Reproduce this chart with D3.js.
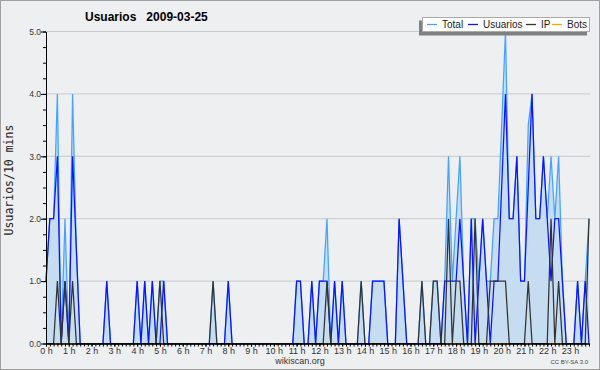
<!DOCTYPE html>
<html>
<head>
<meta charset="utf-8">
<script src="https://cdn.jsdelivr.net/npm/d3@7"></script>
<style>
  body { margin: 0; background: #fff; }
  svg text { font-family: "Liberation Sans", Arial, sans-serif; }
</style>
</head>
<body>
<svg id="chart" width="600" height="370"></svg>
<script>
// one value per 10 minutes, 144 per day
const total = [
  1, 2, 2, 4, 0, 2, 0, 4, 1.5, 0,   0, 0, 0, 0, 0, 0, 1, 0, 0, 0,
  0, 0, 0, 0, 1, 0, 1, 0, 1, 0,     1, 1, 0, 0, 0, 0, 0, 0, 0, 0,
  0, 0, 0, 0, 1, 0, 0, 0, 1, 0,     0, 0, 0, 0, 0, 0, 0, 0, 0, 0,
  0, 0, 0, 0, 0, 0, 1, 1, 0, 0,     1, 0, 1, 1, 2, 0, 1, 0, 1, 0,
  0, 0, 0, 1, 0, 0, 1, 1, 1, 1,     0, 0, 0, 2, 1, 0, 0, 0, 0, 1,
  0, 0, 1, 1, 0, 1, 3, 1, 2, 3,     1, 0, 2, 2, 1, 2, 1, 1, 2, 2,
  3.5, 5, 2, 2, 3, 1, 1, 3.5, 4, 2, 2, 3, 2, 3, 2, 3, 1, 0, 0, 0,
  1, 0, 1, 2
];
const usuarios = [
  1, 2, 2, 3, 0, 1, 0, 3, 1.5, 0,   0, 0, 0, 0, 0, 0, 1, 0, 0, 0,
  0, 0, 0, 0, 1, 0, 1, 0, 1, 0,     0, 1, 0, 0, 0, 0, 0, 0, 0, 0,
  0, 0, 0, 0, 0, 0, 0, 0, 1, 0,     0, 0, 0, 0, 0, 0, 0, 0, 0, 0,
  0, 0, 0, 0, 0, 0, 1, 1, 0, 0,     1, 0, 1, 1, 1, 0, 1, 0, 1, 0,
  0, 0, 0, 0, 0, 0, 1, 1, 1, 1,     0, 0, 0, 2, 1, 0, 0, 0, 0, 0,
  0, 0, 0, 0, 0, 1, 1, 1, 1, 2,     1, 0, 2, 0, 1, 2, 1, 0, 1, 1,
  2.5, 4, 2, 2, 3, 1, 1, 2.5, 4, 2, 2, 3, 2, 1, 2, 2, 1, 0, 0, 0,
  1, 0, 1, 0
];
const ip = [
  0, 0, 0, 1, 0, 1, 0, 1, 0, 0,     0, 0, 0, 0, 0, 0, 0, 0, 0, 0,
  0, 0, 0, 0, 0, 0, 0, 0, 0, 0,     1, 0, 0, 0, 0, 0, 0, 0, 0, 0,
  0, 0, 0, 0, 1, 0, 0, 0, 0, 0,     0, 0, 0, 0, 0, 0, 0, 0, 0, 0,
  0, 0, 0, 0, 0, 0, 0, 0, 0, 0,     0, 0, 0, 0, 1, 0, 0, 0, 0, 0,
  0, 0, 0, 1, 0, 0, 0, 0, 0, 0,     0, 0, 0, 0, 0, 0, 0, 0, 0, 1,
  0, 0, 1, 1, 0, 0, 2, 0, 1, 1,     0, 0, 0, 2, 0, 0, 0, 1, 1, 1,
  1, 1, 0, 0, 0, 0, 0, 1, 0, 0,     0, 0, 0, 2, 0, 1, 0, 0, 0, 0,
  0, 0, 0, 2
];
const bots = [
  0, 0, 0, 0, 0, 0, 0, 0, 0, 0,  0, 0, 0, 0, 0, 0, 0, 0, 0, 0,
  0, 0, 0, 0, 0, 0, 0, 0, 0, 0,  0, 0, 0, 0, 0, 0, 0, 0, 0, 0,
  0, 0, 0, 0, 0, 0, 0, 0, 0, 0,  0, 0, 0, 0, 0, 0, 0, 0, 0, 0,
  0, 0, 0, 0, 0, 0, 0, 0, 0, 0,  0, 0, 0, 0, 0, 0, 0, 0, 0, 0,
  0, 0, 0, 0, 0, 0, 0, 0, 0, 0,  0, 0, 0, 0, 0, 0, 0, 0, 0, 0,
  0, 0, 0, 0, 0, 0, 0, 0, 0, 0,  0, 0, 0, 0, 0, 0, 0, 0, 0, 0,
  0, 0, 0, 0, 0, 0, 0, 0, 0, 0,  0, 0, 0, 0, 0, 0, 0, 0, 0, 0,
  0, 0, 0, 0
];
const hourLabels = ['0 h', '1 h', '2 h', '3 h', '4 h', '5 h', '6 h', '7 h', '8 h', '9 h', '10 h', '11 h',
  '12 h', '13 h', '14 h', '15 h', '16 h', '17 h', '18 h', '19 h', '20 h', '21 h', '22 h', '23 h'];
const yTicks = [0, 1, 2, 3, 4, 5];
const seriesNames = ['Total', 'Usuarios', 'IP', 'Bots'];
const seriesColors = ['#45a3ff', '#0a14ff', '#333333', '#ffa500'];

const svg = d3.select('#chart');

svg.append('rect')
  .attr('x', 0.5).attr('y', 0.5)
  .attr('width', 599).attr('height', 369)
  .attr('fill', '#eeeff1')
  .attr('stroke', '#a0a0a0');

const x = d3.scaleLinear().domain([0, total.length - 1]).range([46, 589]);
const y = d3.scaleLinear().domain([0, 5]).range([343.5, 31.5]);

// grid
svg.append('g')
  .selectAll('line')
  .data(yTicks.slice(1))
  .enter()
  .append('line')
  .attr('x1', 46).attr('x2', 590)
  .attr('y1', d => y(d)).attr('y2', d => y(d))
  .attr('stroke', '#c9c9c9');

const idx = d3.range(total.length);

const area = d3.area()
  .x(i => x(i))
  .y0(y(0))
  .y1(i => y(total[i]));

svg.append('path')
  .datum(idx)
  .attr('d', area)
  .attr('fill', '#c6dcf0');

const line = values => d3.line().x(i => x(i)).y(i => y(values[i]));

[bots, total, usuarios, ip].forEach((values, k) => {
  const color = [seriesColors[3], seriesColors[0], seriesColors[1], seriesColors[2]][k];
  svg.append('path')
    .datum(idx)
    .attr('d', line(values))
    .attr('fill', 'none')
    .attr('stroke', color)
    .attr('stroke-width', 1.25);
});

// y axis
svg.append('g')
  .attr('transform', 'translate(46,0)')
  .call(d3.axisLeft(y).tickValues(d3.range(0, 5.01, 0.25)).tickSize(3).tickSizeOuter(0).tickFormat(''));
const yMajor = svg.append('g')
  .attr('transform', 'translate(46,0)')
  .call(d3.axisLeft(y).tickValues(yTicks).tickSize(5).tickSizeOuter(0).tickFormat(d3.format('.1f')));
yMajor.selectAll('text')
  .attr('x', -5)
  .attr('font-size', 8.5)
  .attr('font-family', '"Liberation Sans", Arial, sans-serif')
  .attr('fill', '#333');

// x axis
svg.append('g')
  .attr('transform', 'translate(0,343.5)')
  .call(d3.axisBottom(x).tickValues(idx).tickSize(3).tickSizeOuter(0).tickFormat(''));
const xMajor = svg.append('g')
  .attr('transform', 'translate(0,343.5)')
  .call(d3.axisBottom(x).tickValues(d3.range(0, total.length, 6)).tickSize(3)
    .tickSizeOuter(0).tickFormat((d, i) => hourLabels[i]));
xMajor.selectAll('text')
  .attr('y', 4)
  .attr('font-size', 9)
  .attr('font-family', '"Liberation Sans", Arial, sans-serif')
  .attr('fill', '#333');

svg.selectAll('.domain, .tick line').attr('stroke', '#000');

// texts
svg.append('text')
  .attr('x', 85).attr('y', 21)
  .attr('font-size', 12)
  .attr('font-weight', 'bold')
  .style('white-space', 'pre')
  .text('Usuarios   2009-03-25');

svg.append('text')
  .attr('transform', 'translate(13,180) rotate(-90)')
  .attr('text-anchor', 'middle')
  .attr('font-size', 11.5)
  .style('font-family', '"DejaVu Sans Mono", monospace')
  .attr('fill', '#222')
  .text('Usuarios/10 mins');

svg.append('text')
  .attr('x', 300).attr('y', 364)
  .attr('text-anchor', 'middle')
  .attr('font-size', 9)
  .attr('fill', '#333')
  .text('wikiscan.org');

svg.append('text')
  .attr('x', 588).attr('y', 364)
  .attr('text-anchor', 'end')
  .attr('font-size', 6)
  .attr('fill', '#444')
  .text('CC BY-SA 3.0');

// legend
const legend = svg.append('g').attr('id', 'legend');
legend.append('rect')
  .attr('x', 419).attr('y', 20.5)
  .attr('width', 168).attr('height', 15)
  .attr('fill', '#808080');
legend.append('rect')
  .attr('x', 422.5).attr('y', 17.5)
  .attr('width', 167).attr('height', 14)
  .attr('fill', '#fff')
  .attr('stroke', '#aaa');

const legendX = [427, 468, 526, 552];
const item = legend.selectAll('g.item')
  .data(seriesNames)
  .enter()
  .append('g')
  .attr('class', 'item')
  .attr('transform', (d, i) => `translate(${legendX[i]},24.5)`);
item.append('line')
  .attr('x1', 0).attr('x2', 10)
  .attr('stroke', (d, i) => seriesColors[i])
  .attr('stroke-width', 1.3);
item.append('text')
  .attr('x', 15).attr('y', 3.5)
  .attr('font-size', 10)
  .attr('fill', '#222')
  .text(d => d);
</script>
</body>
</html>
